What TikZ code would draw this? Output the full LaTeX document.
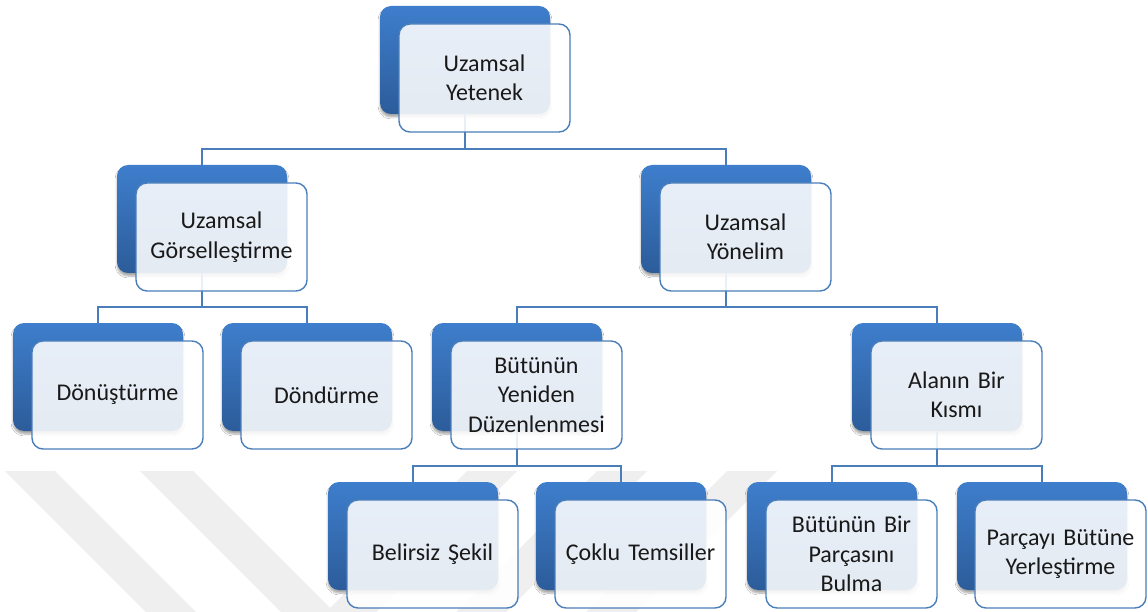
\documentclass[tikz,border=0pt]{standalone}
\usepackage{fontspec}
\setmainfont{Carlito}
\usetikzlibrary{shadows.blur}

\definecolor{boxtop}{RGB}{62,126,204}
\definecolor{boxbot}{RGB}{44,92,154}
\definecolor{edge}{RGB}{74,126,187}
\definecolor{mark}{RGB}{239,239,239}

\tikzset{
  backbox/.style={anchor=north west, minimum width=170pt, minimum height=108pt,
    inner sep=0pt, outer sep=0pt, rounded corners=11pt,
    top color=boxtop, bottom color=boxbot,
    blur shadow={shadow xshift=0pt, shadow yshift=-3pt, shadow blur steps=6, shadow opacity=35}},
  frontbox/.style={anchor=north west, minimum width=171pt, minimum height=108pt,
    inner sep=4pt, outer sep=0pt, rounded corners=11pt,
    draw=edge, line width=1.4pt, fill=white, fill opacity=0.88, text opacity=1,
    text width=162pt, align=center, text=black!90,
    font=\fontsize{24}{29.5}\selectfont},
  conn/.style={draw=edge, line width=1.4pt},
  band/.style={fill=mark, draw=none},
}

\begin{document}
\begin{tikzpicture}[x=1pt, y=-1pt]
  \fill[white] (0,0) rectangle (1148,612);
  \useasboundingbox (0,0) rectangle (1148,612);

  % faint diagonal bands in the lower left
  \fill[band] (5,471) -- (55,471) -- (196,612) -- (146,612) -- cycle;
  \fill[band] (140,471) -- (193,471) -- (334,612) -- (281,612) -- cycle;
  \fill[band] (467,471) -- (517,471) -- (376,612) -- (326,612) -- cycle;
  \fill[band] (597,471) -- (647,471) -- (506,612) -- (456,612) -- cycle;
  \fill[band] (727,471) -- (777,471) -- (636,612) -- (586,612) -- cycle;

  % blue back plates
  \node[backbox] (rootb) at (380,6) {};
  \node[backbox] (visb)  at (117,165) {};
  \node[backbox] (orib)  at (641,165) {};
  \node[backbox] (donb)  at (13,323) {};
  \node[backbox] (rotb)  at (222,323) {};
  \node[backbox] (reob)  at (432,323) {};
  \node[backbox] (parb)  at (852,323) {};
  \node[backbox] (ambb)  at (328,482) {};
  \node[backbox] (mulb)  at (536,482) {};
  \node[backbox] (finb)  at (747,482) {};
  \node[backbox] (plab)  at (957,482) {};

  % tree connectors between the back plates
  \foreach \p/\c in {rootb/visb, rootb/orib, visb/donb, visb/rotb,
                     orib/reob, orib/parb, reob/ambb, reob/mulb,
                     parb/finb, parb/plab}
    \draw[conn] (\p.south) |- ([yshift=16pt]\c.north) -- (\c.north);

  % light front cards with the labels
  \node[frontbox] (root) at (399,24)  {Uzamsal\\Yetenek};
  \node[frontbox] (vis)  at (136,183) {Uzamsal\\Görselleştirme};
  \node[frontbox] (ori)  at (660,183) {Uzamsal\\Yönelim};
  \node[frontbox] (don)  at (32,341)  {Dönüştürme};
  \node[frontbox] (rot)  at (241,341) {Döndürme};
  \node[frontbox] (reo)  at (451,341) {Bütünün\\Yeniden\\Düzenlenmesi};
  \node[frontbox] (par)  at (871,341) {Alanın Bir\\Kısmı};
  \node[frontbox] (amb)  at (347,500) {Belirsiz Şekil};
  \node[frontbox] (mul)  at (555,500) {Çoklu Temsiller};
  \node[frontbox] (fin)  at (766,500) {Bütünün Bir\\Parçasını\\Bulma};
  \node[frontbox] (pla)  at (975,500) {Parçayı Bütüne\\Yerleştirme};
\end{tikzpicture}
\end{document}
